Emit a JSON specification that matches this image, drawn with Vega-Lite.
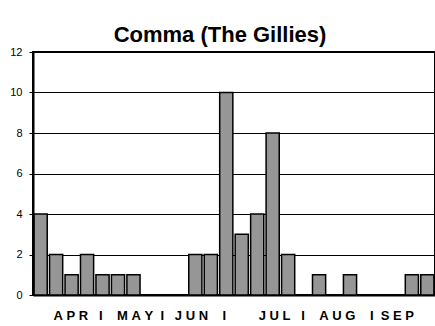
{
  "$schema": "https://vega.github.io/schema/vega-lite/v6.json",
  "width": 402,
  "height": 243,
  "autosize": "none",
  "padding": {"left": 33, "top": 52, "right": 0, "bottom": 31},
  "background": "white",
  "title": {"text": "Comma (The Gillies)", "font": "Liberation Sans", "fontSize": 22, "fontWeight": "bold", "color": "black", "anchor": "middle", "offset": -1, "dx": -14},
  "data": {"values": [
    {"week": 1, "count": 4}, {"week": 2, "count": 2}, {"week": 3, "count": 1}, {"week": 4, "count": 2},
    {"week": 5, "count": 1}, {"week": 6, "count": 1}, {"week": 7, "count": 1}, {"week": 8, "count": 0},
    {"week": 9, "count": 0}, {"week": 10, "count": 0}, {"week": 11, "count": 2}, {"week": 12, "count": 2},
    {"week": 13, "count": 10}, {"week": 14, "count": 3}, {"week": 15, "count": 4}, {"week": 16, "count": 8},
    {"week": 17, "count": 2}, {"week": 18, "count": 0}, {"week": 19, "count": 1}, {"week": 20, "count": 0},
    {"week": 21, "count": 1}, {"week": 22, "count": 0}, {"week": 23, "count": 0}, {"week": 24, "count": 0},
    {"week": 25, "count": 1}, {"week": 26, "count": 1}
  ]},
  "mark": {"type": "bar", "fill": "#969696", "stroke": "black", "strokeWidth": 1.5},
  "encoding": {
    "x": {
      "field": "week", "type": "ordinal",
      "scale": {"paddingInner": 0.15, "paddingOuter": 0.07},
      "axis": {
        "labels": false, "ticks": false, "domainColor": "black", "domainWidth": 2,
        "title": "A\u00a0P\u00a0R\u00a0\u00a0\u00a0I\u00a0\u00a0\u00a0\u00a0M\u00a0A\u00a0Y\u00a0\u00a0I\u00a0\u00a0\u00a0J\u00a0U\u00a0N\u00a0\u00a0\u00a0\u00a0I\u00a0\u00a0\u00a0\u00a0\u00a0\u00a0\u00a0\u00a0\u00a0J\u00a0U\u00a0L\u00a0\u00a0\u00a0I\u00a0\u00a0\u00a0\u00a0A\u00a0U\u00a0G\u00a0\u00a0\u00a0\u00a0I\u00a0\u00a0S\u00a0E\u00a0P",
        "titleFont": "Liberation Sans", "titleFontSize": 13, "titleFontWeight": "bold", "titleColor": "black",
        "titleX": 20, "titleY": 24.3, "titleBaseline": "alphabetic", "titleAlign": "left", "titleAnchor": null
      }
    },
    "y": {
      "field": "count", "type": "quantitative",
      "scale": {"domain": [0, 12]},
      "axis": {
        "values": [0, 2, 4, 6, 8, 10, 12], "grid": true, "gridColor": "black", "gridWidth": 1, "gridOpacity": 1,
        "tickColor": "black", "tickSize": 4, "labelPadding": 7,
        "labelFont": "Liberation Sans", "labelFontSize": 11, "labelColor": "black",
        "domainColor": "black", "domainWidth": 2, "title": null
      }
    }
  },
  "config": {"view": {"stroke": "black", "strokeWidth": 2}}
}
